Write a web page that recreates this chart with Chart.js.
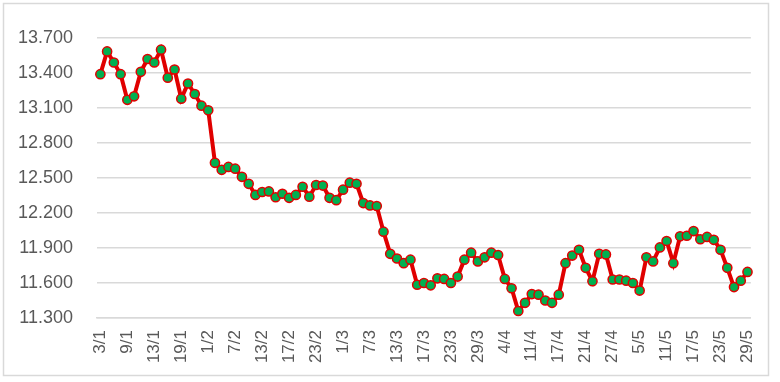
<!DOCTYPE html>
<html>
<head>
<meta charset="utf-8">
<script src="https://cdn.jsdelivr.net/npm/chart.js@4"></script>
<style>
  html, body { margin: 0; padding: 0; background: #ffffff; }
  #wrap { position: relative; width: 780px; height: 382px; }
</style>
</head>
<body>
<div id="wrap"><canvas id="c" width="780" height="382"></canvas></div>
<script>
const dates = [
  '3/1','4/1','5/1','6/1','9/1','10/1','11/1','12/1','13/1','16/1','17/1','18/1','19/1','27/1','30/1','31/1',
  '1/2','2/2','3/2','6/2','7/2','8/2','9/2','10/2','13/2','14/2','15/2','16/2','17/2','20/2','21/2','22/2','23/2','24/2','27/2','28/2',
  '1/3','2/3','3/3','6/3','7/3','8/3','9/3','10/3','13/3','14/3','15/3','16/3','17/3','20/3','21/3','22/3','23/3','24/3','27/3','28/3','29/3','30/3','31/3',
  '3/4','4/4','5/4','6/4','10/4','11/4','12/4','13/4','14/4','17/4','18/4','19/4','20/4','21/4','24/4','25/4','26/4','27/4','28/4',
  '3/5','4/5','5/5','8/5','9/5','10/5','11/5','12/5','15/5','16/5','17/5','18/5','19/5','22/5','23/5','24/5','25/5','26/5','29/5'
];
const prices = [
  13390,13585,13490,13390,13170,13200,13410,13520,13490,13600,13360,13430,13180,13310,13220,13120,
  13080,12630,12570,12595,12580,12510,12450,12355,12380,12385,12335,12365,12330,12355,12425,12340,
  12440,12435,12330,12310,12400,12460,12450,12285,12265,12260,12040,11850,11810,11770,11800,11585,
  11600,11580,11640,11635,11600,11655,11800,11860,11785,11820,11860,11840,11635,11555,11360,11430,
  11505,11500,11450,11430,11500,11770,11835,11885,11730,11615,11850,11845,11630,11630,11620,11600,
  11535,11820,11785,11905,11960,11770,12000,12005,12045,11975,11995,11970,11885,11730,11565,11620,
  11695
];
const yMin = 11300, yMax = 13700, yStep = 300;
const labelEvery = 4;

const borderPlugin = {
  id: 'outerBorder',
  beforeDraw(chart) {
    const ctx = chart.ctx;
    ctx.save();
    ctx.fillStyle = '#ffffff';
    ctx.fillRect(0, 0, chart.width, chart.height);
    ctx.strokeStyle = '#d9d9d9';
    ctx.lineWidth = 1.5;
    ctx.strokeRect(3.5, 3.5, 765, 372);
    ctx.restore();
  }
};

Chart.defaults.font.family = '"Liberation Sans", Arial, sans-serif';
Chart.defaults.color = '#595959';

new Chart(document.getElementById('c'), {
  type: 'line',
  data: {
    labels: dates,
    datasets: [{
      data: prices,
      borderColor: '#e00000',
      borderWidth: 4,
      backgroundColor: '#00b050',
      pointBackgroundColor: '#00b050',
      pointBorderColor: '#e00000',
      pointBorderWidth: 1.5,
      pointRadius: 4.6,
      tension: 0,
      fill: false
    }]
  },
  options: {
    responsive: false,
    animation: false,
    devicePixelRatio: 1,
    plugins: { legend: { display: false }, tooltip: { enabled: false } },
    layout: { padding: { left: 0, top: 38, right: 20, bottom: 6 } },
    scales: {
      x: {
        type: 'category',
        offset: true,
        grid: { display: false, drawTicks: false },
        border: { display: true, color: '#d9d9d9', width: 1.5 },
        ticks: {
          autoSkip: false,
          maxRotation: 90,
          minRotation: 90,
          padding: 12,
          color: '#595959',
          font: { size: 17 },
          callback: function (value, index) {
            return index % labelEvery === 0 ? this.getLabelForValue(value) : null;
          }
        },
        afterFit(scale) { scale.height = 58; }
      },
      y: {
        min: yMin,
        max: yMax,
        grid: { color: '#d9d9d9', lineWidth: 1.5, drawTicks: false },
        border: { display: false },
        ticks: {
          stepSize: yStep,
          padding: 24,
          color: '#595959',
          font: { size: 18 },
          callback: function (v) {
            return v.toLocaleString('de-DE', { minimumFractionDigits: 0 });
          }
        },
        afterFit(scale) { scale.width = 97; }
      }
    }
  },
  plugins: [borderPlugin]
});
</script>
</body>
</html>
